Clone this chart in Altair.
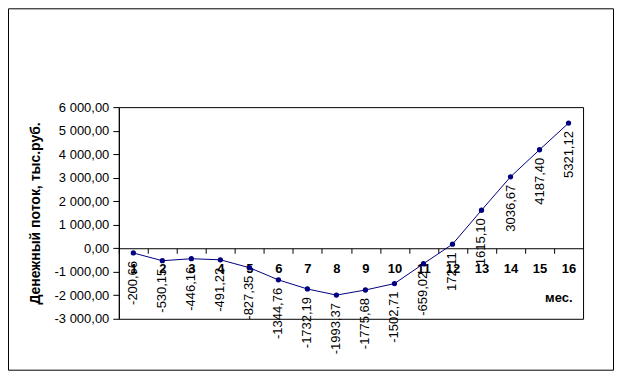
import altair as alt
import pandas as pd

months = [str(i) for i in range(1, 17)]
cash_flow = [-200.66, -530.15, -446.16, -491.22, -827.35, -1344.76, -1732.19, -1993.37,
             -1775.68, -1502.71, -659.02, 172.11, 1615.10, 3036.67, 4187.40, 5321.12]
y_ticks = [-3000, -2000, -1000, 0, 1000, 2000, 3000, 4000, 5000, 6000]

df = pd.DataFrame({"month": months, "value": cash_flow})
df["label"] = [f"{v:.2f}".replace(".", ",") for v in cash_flow]

W, H = 465, 212
FONT = "Liberation Sans"
NAVY = "#000080"
step = W / len(months)

x_enc = alt.X(
    "month:N",
    sort=months,
    scale=alt.Scale(type="band", paddingInner=0, paddingOuter=0),
    axis=alt.Axis(
        title="мес.",
        titleFont=FONT, titleFontSize=13, titleFontWeight="bold", titleColor="black",
        titleX=454, titleY=49, titleAlign="right", titleBaseline="middle", titleAnchor="end",
        labelFont=FONT, labelFontSize=13, labelFontWeight="bold", labelColor="black",
        labelAngle=0, labelPadding=9, labelBaseline="top",
        tickOffset=-step / 2, labelOffset=step / 2, bandPosition=0.5,
        tickSize=5, tickColor="black", domainColor="black",
        offset=-H * 3000 / 9000, grid=False,
    ),
)
y_enc = alt.Y(
    "value:Q",
    scale=alt.Scale(domain=[-3000, 6000], nice=False, zero=False),
    axis=alt.Axis(
        values=y_ticks,
        title="Денежный поток, тыс.руб.",
        titleFont=FONT, titleFontSize=14, titleFontWeight="bold", titleColor="black",
        titlePadding=12,
        labelFont=FONT, labelFontSize=13, labelColor="black", labelPadding=4,
        labelExpr="replace(replace(replace(format(datum.value, ',.2f'), regexp(',', 'g'), ' '), '.', ','), '\u2212', '-')",
        tickSize=6, tickColor="black", domainColor="black", grid=False,
    ),
)

base = alt.Chart(df).encode(x=x_enc, y=y_enc)
line = base.mark_line(color=NAVY, strokeWidth=1)
points = base.mark_point(filled=True, color=NAVY, size=28, opacity=1)
labels = base.mark_text(
    angle=270, align="right", baseline="middle", dx=-8,
    font=FONT, fontSize=13, color="black",
).encode(text="label:N")

frame = alt.Chart(alt.Data(values=[{}])).mark_rect(
    fillOpacity=0, stroke="black", strokeWidth=1
).encode(
    x=alt.value(-110.5), x2=alt.value(495.5),
    y=alt.value(-98.5), y2=alt.value(263.5),
)

chart = alt.layer(frame, line, points, labels).properties(
    width=W, height=H,
    autosize=alt.AutoSizeParams(type="none"),
    padding={"left": 111, "top": 99, "right": 31, "bottom": 52},
    background="white",
).configure_view(stroke="black", strokeWidth=1)

chart.save("out.html", embed_options={"renderer": "svg", "actions": False})
